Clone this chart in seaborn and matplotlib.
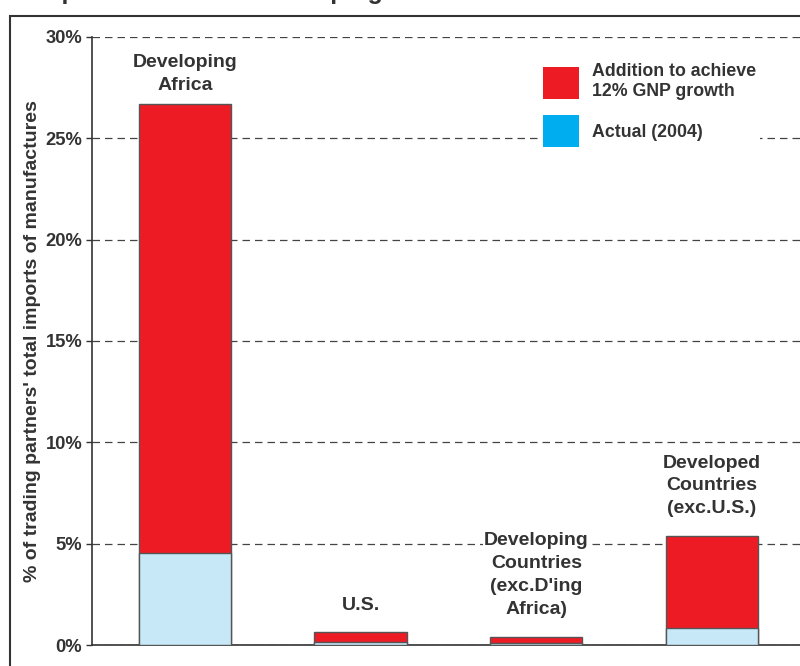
import pandas as pd
import seaborn as sns
from matplotlib import pyplot as plt
from matplotlib.patches import Patch, Rectangle
from matplotlib.ticker import PercentFormatter

# values (% of trading partners' imports of manufactures)
regions = ["Developing\nAfrica", "U.S.", "Developing\nCountries\n(exc.D'ing\nAfrica)",
           "Developed\nCountries\n(exc.U.S.)"]
actual_2004 = [4.55, 0.15, 0.10, 0.84]
needed_total = [26.7, 0.64, 0.42, 5.38]
y_ticks = [0, 5, 10, 15, 20, 25, 30]

# gap (points) between each bar top and its label
label_gap = [7, 13, 13.5, 13.5]

red = "#ed1c24"
light_blue = "#c7e8f7"
legend_blue = "#00aeef"
text_col = "#333333"
edge_col = "#555555"

sns.set_theme(style="white")
plt.rcParams["font.family"] = ["Liberation Sans", "DejaVu Sans"]
plt.rcParams["font.weight"] = "bold"

data = pd.DataFrame({"Region": regions, "Actual": actual_2004, "Total": needed_total})

fig = plt.figure(figsize=(8, 6.66), dpi=100)
ax = fig.add_axes([0.115, 0.0315, 0.885, 0.913])

sns.barplot(data=data, x="Region", y="Total", order=regions, color=red, width=0.525,
            edgecolor=edge_col, linewidth=1, saturation=1, ax=ax, zorder=3)
sns.barplot(data=data, x="Region", y="Actual", order=regions, color=light_blue, width=0.525,
            edgecolor=edge_col, linewidth=1, saturation=1, ax=ax, zorder=3)

ax.set_xlim(-0.528, 3.5)
ax.set_ylim(0, 30)
ax.set_yticks(y_ticks)
ax.yaxis.set_major_formatter(PercentFormatter(decimals=0))
ax.tick_params(axis="y", which="both", left=True, length=4, width=1, color=text_col,
               labelsize=13.2, labelcolor=text_col, pad=3)
ax.tick_params(axis="x", bottom=False, labelbottom=False)
for t in ax.get_yticklabels():
    t.set_fontweight("bold")
ax.set_xlabel("")
ax.set_ylabel("% of trading partners' total imports of manufactures", fontsize=14,
              fontweight="bold", color=text_col, labelpad=3)
ax.yaxis.grid(True, linestyle=(0, (6, 4)), color="#444444", linewidth=0.9, zorder=0)
ax.set_axisbelow(True)

for side in ["top", "right"]:
    ax.spines[side].set_visible(False)
for side in ["left", "bottom"]:
    ax.spines[side].set_color(text_col)
    ax.spines[side].set_linewidth(1.2)

# region labels above each bar
for i, (name, top) in enumerate(zip(regions, needed_total)):
    ax.annotate(name, xy=(i, top), xytext=(0, label_gap[i]), textcoords="offset points",
                ha="center", va="bottom", fontsize=14, fontweight="bold",
                color=text_col, linespacing=1.45, zorder=4,
                bbox=dict(facecolor="white", edgecolor="none", pad=1))

handles = [Patch(facecolor=red, edgecolor="none"), Patch(facecolor=legend_blue, edgecolor="none")]
labels = ["Addition to achieve\n12% GNP growth", "Actual (2004)"]
leg = ax.legend(handles, labels, loc="upper left", bbox_to_anchor=(0.62, 0.977),
                frameon=True, fontsize=12.8, handlelength=2.0, handleheight=2.4,
                handletextpad=0.75, labelspacing=0.85, borderpad=0.2)
leg.get_frame().set_facecolor("white")
leg.get_frame().set_edgecolor("none")
leg.get_frame().set_alpha(1)
for t in leg.get_texts():
    t.set_color(text_col)
    t.set_fontweight("bold")

# outer frame of the original slide, clipped on the right and bottom
fig.patches.append(Rectangle((10 / 800, -0.05), 1.0, 1 - 16 / 666 + 0.05,
                             transform=fig.transFigure, fill=False,
                             edgecolor=text_col, linewidth=1.5))

# slide title, mostly cut off by the top edge as in the original
fig.text(0.012, 1.012, "compared to that of developing Africa", ha="left", va="center",
         fontsize=18, fontweight="bold", color=text_col)

plt.savefig("out.png", dpi=100)
